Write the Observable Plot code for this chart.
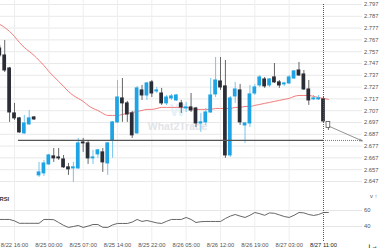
<!DOCTYPE html>
<html><head><meta charset="utf-8">
<script src="https://cdn.jsdelivr.net/npm/d3@7"></script>
<script src="https://cdn.jsdelivr.net/npm/@observablehq/plot@0.6"></script>
<style>
html,body{margin:0;padding:0;background:#fff;}
#chart{position:relative;width:380px;height:250px;overflow:hidden;background:#fff;}
#chart svg{position:absolute;left:0;display:block;}
</style></head><body><div id="chart"></div>
<script>
// Hourly candles, index 0..67
const open  = [2.7597,2.7538,2.7428,2.7047,2.7005,2.6878,2.6954,2.7013,2.6522,2.6539,2.6615,2.6683,2.6674,2.6657,2.6590,2.6581,2.6581,2.6801,2.6793,2.6666,2.6700,2.6717,2.6623,2.6818,2.6971,2.7174,2.7132,2.7047,2.6878,2.7242,2.7199,2.7310,2.7233,2.7216,2.7132,2.7174,2.7157,2.7132,2.7089,2.7098,2.7089,2.6962,2.6971,2.7055,2.7208,2.7318,2.7276,2.6691,2.7191,2.7242,2.6945,2.6962,2.7216,2.7284,2.7335,2.7284,2.7352,2.7310,2.7293,2.7301,2.7343,2.7411,2.7377,2.7250,2.7166,2.7166,2.7166,2.6971];
const high  = [2.7623,2.7665,2.7437,2.7132,2.7013,2.7030,2.7072,2.7021,2.6632,2.6649,2.6700,2.6750,2.6750,2.6691,2.6623,2.6632,2.6835,2.6835,2.6818,2.6734,2.6742,2.6750,2.6801,2.6979,2.7326,2.7343,2.7149,2.7064,2.7276,2.7284,2.7310,2.7326,2.7267,2.7259,2.7199,2.7208,2.7208,2.7157,2.7140,2.7216,2.7098,2.7047,2.7089,2.7343,2.7521,2.7521,2.7496,2.7191,2.7310,2.7293,2.6971,2.7284,2.7293,2.7369,2.7352,2.7343,2.7470,2.7326,2.7310,2.7369,2.7411,2.7479,2.7411,2.7326,2.7199,2.7199,2.7182,2.6979];
const low   = [2.7521,2.7394,2.6971,2.6988,2.6878,2.6869,2.6945,2.6988,2.6505,2.6513,2.6606,2.6632,2.6649,2.6581,2.6522,2.6462,2.6573,2.6717,2.6615,2.6615,2.6666,2.6547,2.6522,2.6666,2.6962,2.6971,2.6971,2.6835,2.6869,2.7157,2.7157,2.7182,2.7216,2.7115,2.7115,2.7157,2.7149,2.7047,2.7055,2.7055,2.6928,2.6886,2.6945,2.7047,2.7182,2.7242,2.6666,2.6674,2.7132,2.6945,2.6793,2.6928,2.7199,2.7267,2.7259,2.7267,2.7301,2.7259,2.7276,2.7293,2.7335,2.7360,2.7242,2.7115,2.7157,2.7157,2.6971,2.6903];
const close = [2.7538,2.7411,2.7055,2.7005,2.6886,2.6962,2.7005,2.6996,2.6547,2.6623,2.6691,2.6666,2.6666,2.6590,2.6573,2.6590,2.6793,2.6793,2.6666,2.6674,2.6734,2.6632,2.6793,2.6971,2.7182,2.7132,2.7038,2.6861,2.7259,2.7199,2.7301,2.7216,2.7242,2.7132,2.7182,2.7191,2.7199,2.7098,2.7098,2.7072,2.6962,2.6971,2.7055,2.7199,2.7326,2.7267,2.6691,2.7174,2.7250,2.6971,2.6962,2.7208,2.7267,2.7352,2.7276,2.7335,2.7310,2.7284,2.7301,2.7352,2.7403,2.7369,2.7250,2.7157,2.7174,2.7174,2.6979,2.6928];
const movingAvg = [2.7801,2.7775,2.7741,2.7699,2.7648,2.7606,2.7572,2.7538,2.7496,2.7453,2.7403,2.7360,2.7318,2.7276,2.7233,2.7199,2.7174,2.7149,2.7115,2.7089,2.7072,2.7047,2.7030,2.7030,2.7030,2.7038,2.7047,2.7055,2.7064,2.7072,2.7081,2.7081,2.7089,2.7098,2.7098,2.7098,2.7098,2.7098,2.7098,2.7089,2.7081,2.7081,2.7081,2.7081,2.7089,2.7089,2.7089,2.7089,2.7098,2.7098,2.7106,2.7106,2.7115,2.7123,2.7132,2.7140,2.7149,2.7157,2.7166,2.7174,2.7191,2.7199,2.7199,2.7199,2.7191,2.7182,2.7174,2.7166];
const rsi = [48.8,48.8,48.8,47,44,44,44,44,44,48.8,48.8,48.5,45,41.5,38.8,40,41.3,38.8,40.5,42.5,42.5,39,38.8,42,43.8,43.8,43.8,45.5,48.8,46.3,47.5,46,44.5,43.8,46.5,48.8,48.8,48.8,51.3,48.8,45,46,46.3,46.3,46.3,46.3,50,53,55,53,51.3,54,57.5,56,54,57,56.5,54.5,52.5,51.3,54,57.5,57,55,53.8,55,57.5,57.5];

const timeLabels = ["8/22 16:00","8/25 00:00","8/25 07:00","8/25 14:00","8/25 22:00","8/26 05:00","8/26 12:00","8/26 19:00","8/27 03:00","8/27 11:00"];
const labelIndex = [3,10,17,24,31,38,45,52,59,66];
const priceTicks = [2.647,2.657,2.667,2.677,2.687,2.697,2.707,2.717,2.727,2.737,2.747,2.757,2.767,2.777,2.787,2.797];
const rsiTicks = [40,60];
const supportLevel = 2.6818;
const supportStart = 3.8;
const nowIndex = 66;
const forecast = [{i1:67.2, p1:2.6937, i2:73.9, p2:2.6814}];

const candles = open.map((o,i)=>({i, open:o, high:high[i], low:low[i], close:close[i], forming: i===open.length-1}));
const maData = movingAvg.map((v,i)=>({i, v}));
const rsiData = rsi.map((v,i)=>({i, v}));

const BLUE = "#1ea3e4", DARK = "#2b2d36";
const bodyFill = d => d.forming ? "#fff" : (d.close >= d.open ? BLUE : DARK);
const bodyStroke = d => d.forming ? "#555" : "none";
const wickColor = d => d.forming ? "#666" : (d.close >= d.open ? "#74c6ef" : "#666");

const xScale = {type:"linear", domain:[0,67], range:[-0.7,327.9], axis:null};
const font = {fontFamily:"'Liberation Sans', Arial, sans-serif", fontSize:"5.8px", background:"#fff", overflow:"visible"};
const fmt = d => timeLabels[labelIndex.indexOf(d)];

const priceChart = Plot.plot({
  width:380, height:190, marginTop:0, marginLeft:0, marginRight:18, marginBottom:0,
  x: xScale,
  y: {domain:[2.647,2.797], range:[181,4], axis:null},
  color: {type:"identity"},
  style: font,
  marks: [
    Plot.gridY(priceTicks, {stroke:"#e9e9e9", strokeOpacity:1}),
    Plot.gridX(labelIndex.slice(0,-1), {stroke:"#eeeeee", strokeOpacity:1}),
    Plot.axisY(priceTicks, {anchor:"right", tickSize:0, tickPadding:1.5, tickFormat:d=>d.toFixed(3), fill:"#555"}),
    Plot.text(["W"], {frameAnchor:"top-left", dx:177, dy:110, textAnchor:"middle", lineAnchor:"middle", fontSize:16, fontWeight:"bold", fill:"#e3f1f9"}),
    Plot.text(["What2Trade"], {frameAnchor:"top-left", dx:177, dy:126, textAnchor:"middle", lineAnchor:"middle", fontSize:10.5, fontWeight:"bold", fill:"#e2e4e7"}),
    Plot.line(maData, {x:"i", y:"v", stroke:"#f27b7b", strokeWidth:1, curve:"monotone-x"}),
    Plot.ruleX(candles, {x:"i", y1:"low", y2:"high", stroke:wickColor, strokeWidth:1}),
    Plot.rect(candles, {x1:d=>d.i-0.38, x2:d=>d.i+0.38, y1:"open", y2:"close", fill:bodyFill, stroke:bodyStroke, strokeWidth:0.8, insetTop:-0.5, insetBottom:-0.5}),
    Plot.ruleY([supportLevel], {x1:supportStart, x2:nowIndex, stroke:"#555", strokeWidth:1.2}),
    Plot.ruleY([supportLevel], {x1:nowIndex, x2:forecast[0].i2, stroke:"#777", strokeWidth:1, strokeDasharray:"1,1"}),
    Plot.ruleX([nowIndex], {y1:2.797, y2:2.63, stroke:"#4d5b66", strokeWidth:1, strokeDasharray:"1,1"}),
    Plot.arrow(forecast, {x1:"i1", y1:"p1", x2:"i2", y2:"p2", stroke:"#777", strokeWidth:0.8, headLength:5, headAngle:45})
  ]
});
priceChart.style.top = "0px";

const rsiChart = Plot.plot({
  width:380, height:60, marginTop:0, marginLeft:0, marginRight:18, marginBottom:9,
  x: xScale,
  y: {domain:[40,60], range:[36,20], axis:null},
  style: font,
  marks: [
    Plot.gridY(rsiTicks, {stroke:"#e6e6e6", strokeOpacity:1}),
    Plot.gridX(labelIndex.slice(0,-1), {stroke:"#eeeeee", strokeOpacity:1}),
    Plot.axisY(rsiTicks, {anchor:"right", tickSize:0, tickPadding:1.5, fill:"#555"}),
    Plot.axisX(labelIndex.slice(0,-1), {anchor:"bottom", tickSize:0, tickPadding:1, tickFormat:fmt, fill:"#555"}),
    Plot.axisX(labelIndex.slice(-1), {anchor:"bottom", tickSize:0, tickPadding:1, tickFormat:fmt, fill:"#222"}),
    Plot.ruleX([nowIndex], {stroke:"#4d5b66", strokeWidth:1, strokeDasharray:"1,1"}),
    Plot.line(rsiData, {x:"i", y:"v", stroke:"#555", strokeWidth:0.9}),
    Plot.text(["RSI"], {frameAnchor:"top-left", dx:-1, dy:6, fontWeight:"bold", fill:"#333"})
  ]
});
rsiChart.style.top = "190px";

document.getElementById("chart").append(priceChart, rsiChart);
</script>
</body></html>
